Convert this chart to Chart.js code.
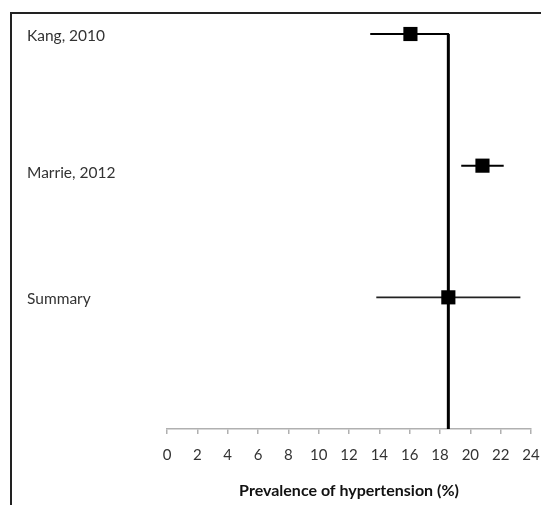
<!DOCTYPE html>
<html>
<head>
<meta charset="utf-8">
<script src="https://cdn.jsdelivr.net/npm/chart.js@4.4.1/dist/chart.umd.min.js"></script>
<style>
  html, body { margin: 0; padding: 0; background: #fff; }
  #wrap { width: 541px; height: 505px; position: relative; }
</style>
</head>
<body>
<div id="wrap"><canvas id="c" width="541" height="505"></canvas></div>
<script>
// Studies and pooled estimate: prevalence of hypertension (%) with 95% CI
const studies   = ['Kang, 2010', 'Marrie, 2012', 'Summary'];
const estimates = [16.05, 20.8, 18.55];
const lowerCI   = [13.4, 19.4, 13.8];
const upperCI   = [18.6, 22.2, 23.3];
const xTicks    = [0, 2, 4, 6, 8, 10, 12, 14, 16, 18, 20, 22, 24];

// Vertical nudge (px) of each study label relative to its row
const labelNudge = [2, 7, 2];

const FONT = 'Lato, "Open Sans", sans-serif';
const summaryIndex = studies.length - 1;
const axisRow = studies.length; // row where the x axis sits

// Confidence-interval whiskers, one line dataset per row
const ciSets = studies.map((s, i) => ({
  type: 'line',
  label: s + ' CI',
  data: [{ x: lowerCI[i], y: i }, { x: upperCI[i], y: i }],
  borderColor: i === summaryIndex ? '#222' : '#000',
  borderWidth: i === summaryIndex ? 1.6 : 2,
  pointRadius: 0,
  fill: false,
  order: 3
}));

// Reference line at the pooled estimate
const refLine = {
  type: 'line',
  label: 'Summary line',
  data: [{ x: estimates[summaryIndex], y: 0 }, { x: estimates[summaryIndex], y: axisRow }],
  borderColor: '#000',
  borderWidth: 3,
  pointRadius: 0,
  fill: false,
  order: 2
};

// Point estimates as square markers
const pointSet = {
  type: 'scatter',
  label: 'Estimate',
  data: studies.map((s, i) => ({ x: estimates[i], y: i })),
  pointStyle: 'rect',
  pointRadius: 10,
  pointHoverRadius: 10,
  backgroundColor: '#000',
  borderColor: '#000',
  borderWidth: 0,
  order: 1
};

// Outer frame and study labels
const decorations = {
  id: 'decorations',
  beforeDraw(chart) {
    const ctx = chart.ctx;
    ctx.save();
    ctx.fillStyle = '#fff';
    ctx.fillRect(0, 0, chart.width, chart.height);
    ctx.strokeStyle = '#222';
    ctx.lineWidth = 2;
    ctx.beginPath();
    ctx.moveTo(11, chart.height);
    ctx.lineTo(11, 13);
    ctx.lineTo(chart.width, 13);
    ctx.stroke();
    ctx.restore();
  },
  afterDraw(chart) {
    const ctx = chart.ctx;
    const y = chart.scales.y;
    ctx.save();
    ctx.fillStyle = '#333';
    ctx.font = '15.5px ' + FONT;
    ctx.textAlign = 'left';
    ctx.textBaseline = 'middle';
    studies.forEach((s, i) => {
      ctx.fillText(s, 27, y.getPixelForValue(i) + labelNudge[i]);
    });
    ctx.restore();
  }
};

new Chart(document.getElementById('c'), {
  data: { datasets: [...ciSets, refLine, pointSet] },
  options: {
    responsive: false,
    animation: false,
    events: [],
    clip: false,
    layout: { padding: { left: 167, right: 10, top: 34, bottom: 0 } },
    plugins: { legend: { display: false }, tooltip: { enabled: false } },
    scales: {
      x: {
        type: 'linear',
        min: xTicks[0],
        max: xTicks[xTicks.length - 1],
        afterBuildTicks(scale) { scale.ticks = xTicks.map(v => ({ value: v })); },
        afterFit(scale) {
          scale.height = 76;
          scale.paddingLeft = 0;
          scale.paddingRight = 0;
        },
        border: { display: true, color: '#b0b0b0', width: 1.5 },
        grid: { display: true, drawOnChartArea: false, drawTicks: true, tickLength: 5, color: '#b0b0b0', lineWidth: 1.5 },
        ticks: { padding: 12, color: '#333', font: { family: FONT, size: 15 }, maxRotation: 0, autoSkip: false },
        title: {
          display: true,
          text: 'Prevalence of hypertension (%)',
          color: '#111',
          font: { family: FONT, size: 16, weight: 'bold' },
          padding: { top: 9, bottom: 5 }
        }
      },
      y: {
        type: 'linear',
        display: false,
        min: 0,
        max: axisRow,
        reverse: true
      }
    }
  },
  plugins: [decorations]
});
</script>
</body>
</html>
